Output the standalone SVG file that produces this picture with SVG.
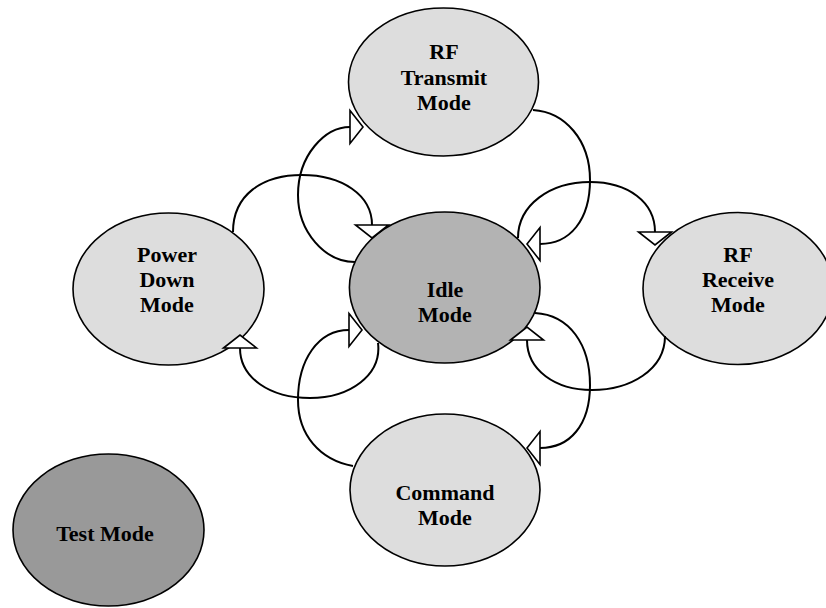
<svg xmlns="http://www.w3.org/2000/svg" width="826" height="608" viewBox="0 0 826 608">
<style>
.node{stroke:#000;stroke-width:1.6}
.light{fill:#dddddd}
.idle{fill:#b3b3b3}
.test{fill:#999999}
.lbl{font-family:"Liberation Serif","Times New Roman",serif;font-weight:bold;font-size:22px;fill:#000;text-anchor:middle}
.edge{fill:none;stroke:#000;stroke-width:2;marker-end:url(#tri)}
</style>
<defs>
<marker id="tri" markerUnits="userSpaceOnUse" viewBox="-1 -18 16 36" refX="0" refY="0" markerWidth="16" markerHeight="36" orient="auto" overflow="visible">
<path d="M0,-16.5 L13,0 L0,16.5 Z" fill="#fff" stroke="#000" stroke-width="1.6"/>
</marker>
</defs>
<rect width="826" height="608" fill="#fff"/>
<g id="rf-transmit">
<ellipse class="node light" cx="443.5" cy="82" rx="95" ry="74"/>
<text class="lbl" x="444" y="59">RF</text>
<text class="lbl" x="444" y="85">Transmit</text>
<text class="lbl" x="444" y="110">Mode</text>
</g>
<g id="idle">
<ellipse class="node idle" cx="444.7" cy="287.5" rx="95.3" ry="75.5"/>
<text class="lbl" x="445" y="297">Idle</text>
<text class="lbl" x="445" y="322">Mode</text>
</g>
<g id="power-down">
<ellipse class="node light" cx="168.5" cy="289" rx="95.5" ry="76"/>
<text class="lbl" x="167" y="262">Power</text>
<text class="lbl" x="167" y="287">Down</text>
<text class="lbl" x="167" y="312">Mode</text>
</g>
<g id="rf-receive">
<ellipse class="node light" cx="738" cy="288.5" rx="95" ry="76"/>
<text class="lbl" x="738" y="262">RF</text>
<text class="lbl" x="738" y="287">Receive</text>
<text class="lbl" x="738" y="312">Mode</text>
</g>
<g id="command">
<ellipse class="node light" cx="445" cy="490" rx="95" ry="76"/>
<text class="lbl" x="445" y="500">Command</text>
<text class="lbl" x="445" y="525">Mode</text>
</g>
<g id="test">
<ellipse class="node test" cx="108.5" cy="530" rx="95.5" ry="76"/>
<text class="lbl" x="105" y="541">Test Mode</text>
</g>
<g id="connectors">
<path class="edge" d="M355,262 C325,262 298,232 298,195 C298,155 325,127 350,127"/>
<path class="edge" d="M233,232 C233,195 262,175 302,175 C342,175 372,195 372,225"/>
<path class="edge" d="M533,110 C565,112 590,140 590,180 C590,220 570,244 540,244"/>
<path class="edge" d="M518,238 C518,205 550,182 590,182 C628,182 655,202 655,232"/>
<path class="edge" d="M378,343 C382,375 350,398 310,398 C270,398 240,378 240,348"/>
<path class="edge" d="M353,466 C320,460 298,435 298,400 C298,360 318,330 349,330"/>
<path class="edge" d="M535,313 C570,315 590,345 590,385 C590,425 570,448 540,448"/>
<path class="edge" d="M665,336 C665,370 630,390 592,390 C555,390 527,370 527,340"/>
</g>
</svg>
